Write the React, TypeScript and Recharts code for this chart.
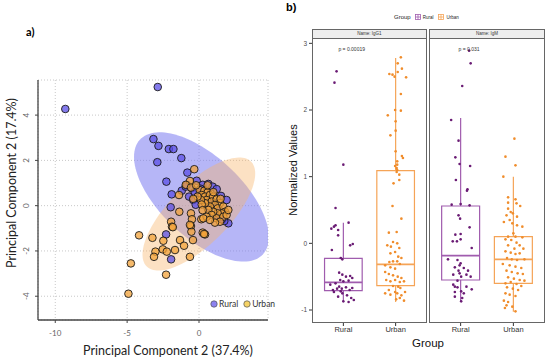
import React from "react";
import {
	ComposedChart,
	Scatter,
	Area,
	XAxis,
	YAxis,
	CartesianGrid,
	ReferenceArea,
	ReferenceLine,
	ReferenceDot,
} from "recharts";

// ---- panel a) PCA scores ----
const pcRural: [number, number][] = [
	[-9.3, 4.27], [-2.87, 5.24], [-3.17, 2.94], [-2.82, 2.64], [-2.1, 2.5], [-1.78, 2.5], [-1.23, 2.1],
	[-2.9, 1.92], [-0.81, 1.46], [-2.27, 1.06], [-1.9, 0.5], [-1.2, 0.66], [-0.93, 0.84], [-0.69, 0.4],
	[-1.97, -0.07], [-2.29, -1.27], [-1.94, -2.37], [2.04, -0.78], [1.76, -0.68], [1.58, -0.6],
	[-0.16, 1.1], [0.26, 0.92], [0.65, 0.96], [0.95, 0.84], [1.23, 0.73], [0.02, 0.55], [-0.4, 0.25],
	[-0.23, 0.04], [1.53, 0.43], [1.92, 0.25], [-0.51, 0.77], [-0.85, 0.92], [0.5, 0.6], [0.8, 0.3],
	[1.1, 0.1], [1.4, -0.2], [0.3, 0.2], [1.7, -0.3], [0.6, -0.1], [1.2, -0.45], [-0.3, 0.6], [0.1, 0.75],
];
const pcUrban: [number, number][] = [
	[-4.17, -1.31], [-3.24, -1.42], [-2.48, -1.55], [-1.32, -1.52], [-1.04, -1.77], [-0.42, -1.52],
	[-1.37, -0.27], [-1.94, -0.71], [-1.88, -0.93], [-1.82, -0.95], [-0.56, -0.34], [-0.49, -0.6],
	[-0.56, -0.9], [-0.53, -1.15], [0.16, -0.6], [0.26, -1.19], [0.42, -1.27], [0.35, -1.25],
	[-3.03, -2.03], [-3.13, -2.26], [-2.52, -1.93], [-2.24, -2.03], [-1.67, -1.96], [-0.63, -2.26],
	[-4.74, -2.55], [-2.29, -3.05], [-4.91, -3.89], [-0.33, 1.61], [-0.63, 1.09], [-1.39, 0.47],
	[-0.92, 0.92], [-0.56, 0.8], [0.05, 0.69], [0.37, 0.66], [0.6, 0.58], [0.19, 0.47], [0.42, 0.4],
	[0.76, 0.47], [0.99, 0.4], [0.53, 0.25], [0.88, 0.18], [1.23, 0.28], [1.46, 0.11], [1.11, 0.03],
	[0.76, -0.04], [0.42, 0.11], [0.14, 0.25], [1.3, -0.12], [1.69, -0.04], [1.81, -0.27], [1.58, -0.34],
	[1.3, -0.34], [0.99, -0.27], [0.65, -0.19], [0.88, -0.41], [1.23, -0.56], [1.69, -0.49], [1.92, -0.41],
	[2.04, -0.19], [0.53, -0.49], [0.3, -0.56], [1.46, -0.71], [1.11, -0.75], [0.76, -0.63], [0.19, 0.05],
	[1.0, 0.6], [1.5, 0.3], [0.25, -0.2], [-0.1, 0.4], [-0.4, 0.3], [-0.63, -0.85], [0.6, 0.9], [-0.2, 0.9],
];
// confidence ellipses: centre, x half-width, y shift per unit of x, y half-height at centre
const ruralEllipse = { cx: 0.17, cy: 0.385, a: 4.69, b: -1.77, c: 2.24 };
const urbanEllipse = { cx: -0.01, cy: -0.37, a: 3.92, b: 1.79, c: 1.74 };
const pcXTicks = [-10, -5, 0];
const pcYTicks = [-4, -2, 0, 2, 4];

// ---- panel b) boxplots ----
const groups = ["Rural", "Urban"];
const igg1Rural: [number, number][] = [
	[-0.13, 2.58], [-0.17, 2.41], [0.0, 1.18], [-0.15, 0.53], [0.1, 0.31], [-0.23, 0.22], [-0.18, 0.25],
	[-0.15, 0.27], [-0.1, 0.2], [-0.1, 0.12], [0.13, -0.03], [0.18, -0.01], [-0.22, -0.1], [-0.02, -0.24],
	[-0.05, -0.22], [-0.08, -0.44], [-0.02, -0.47], [0.05, -0.5], [0.13, -0.49], [0.17, -0.52], [-0.06, -0.55],
	[0.0, -0.57], [0.1, -0.56], [-0.15, -0.6], [-0.25, -0.62], [-0.12, -0.68], [-0.2, -0.7], [-0.03, -0.68],
	[0.05, -0.66], [0.12, -0.7], [0.17, -0.67], [-0.18, -0.73], [-0.02, -0.75], [0.07, -0.78], [-0.1, -0.8],
	[0.15, -0.82], [0.2, -0.85], [0.0, -0.87], [0.1, -0.88], [-0.05, -0.72], [-0.08, -0.65],
];
const igg1Urban: [number, number][] = [
	[0.1, 2.79], [0.04, 2.7], [-0.12, 2.54], [-0.06, 2.53], [0.04, 2.57], [0.12, 2.62], [0.2, 2.49],
	[-0.02, 2.5], [0.1, 2.24], [-0.01, 2.0], [0.1, 1.99], [-0.15, 1.92], [0.0, 1.83], [0.0, 1.69],
	[-0.1, 1.62], [0.0, 1.38], [0.12, 1.31], [0.14, 1.28], [0.03, 1.23], [0.03, 1.18], [0.02, 1.13],
	[-0.01, 1.16], [0.03, 1.1], [0.02, 1.07], [0.07, 1.03], [0.07, 0.95], [-0.04, 0.9], [-0.06, 0.56],
	[0.11, 0.37], [-0.13, 0.16], [0.02, 0.17], [-0.05, 0.02], [0.03, 0.0], [-0.09, -0.05], [-0.16, -0.03],
	[0.07, -0.07], [-0.01, -0.13], [0.05, -0.2], [0.11, -0.22], [-0.1, -0.15], [-0.12, -0.28], [-0.05, -0.27],
	[0.03, -0.27], [0.08, -0.31], [-0.2, -0.33], [-0.1, -0.36], [-0.01, -0.38], [-0.2, -0.43], [-0.13, -0.46],
	[-0.05, -0.48], [0.04, -0.5], [0.11, -0.52], [-0.18, -0.55], [-0.1, -0.57], [-0.01, -0.55], [0.08, -0.58],
	[0.16, -0.57], [-0.05, -0.64], [0.05, -0.65], [0.09, -0.67], [-0.13, -0.7], [-0.2, -0.75], [-0.1, -0.77],
	[-0.01, -0.73], [0.03, -0.75], [0.11, -0.78], [0.18, -0.73], [0.08, -0.82], [0.01, -0.84], [0.16, -0.86],
];
const igmRural: [number, number][] = [
	[0.16, 2.89], [0.19, 2.7], [0.03, 2.36], [-0.18, 1.85], [-0.04, 1.54], [-0.1, 1.29], [-0.02, 1.19],
	[0.18, 1.16], [-0.09, 0.95], [0.13, 0.81], [0.12, 0.79], [-0.17, 0.58], [0.0, 0.59], [0.17, 0.57],
	[-0.04, 0.42], [-0.01, 0.37], [0.17, 0.24], [-0.1, 0.13], [0.0, 0.14], [-0.15, 0.03], [-0.07, 0.03],
	[0.0, 0.06], [0.21, -0.07], [-0.24, -0.24], [-0.06, -0.25], [0.0, -0.3], [-0.02, -0.33], [-0.11, -0.36],
	[0.06, -0.37], [-0.04, -0.41], [0.14, -0.41], [-0.02, -0.45], [-0.14, -0.47], [0.19, -0.5], [0.11, -0.47],
	[-0.06, -0.56], [0.01, -0.5], [-0.14, -0.62], [-0.11, -0.65], [-0.06, -0.66], [0.11, -0.65], [0.21, -0.69],
	[-0.11, -0.73], [0.01, -0.72], [0.06, -0.75], [-0.11, -0.8], [0.03, -0.82], [0.01, -0.87],
];
const igmUrban: [number, number][] = [
	[0.02, 1.57], [-0.15, 1.3], [0.04, 1.17], [-0.19, 1.0], [-0.1, 0.69], [0.04, 0.66], [-0.1, 0.61],
	[0.06, 0.6], [0.13, 0.56], [-0.1, 0.52], [-0.05, 0.47], [-0.01, 0.45], [-0.13, 0.42], [0.07, 0.4],
	[-0.18, 0.32], [-0.07, 0.35], [-0.02, 0.3], [0.07, 0.27], [0.17, 0.25], [0.0, 0.15], [-0.1, 0.1],
	[0.04, 0.1], [0.17, 0.09], [-0.15, 0.06], [-0.04, 0.05], [0.06, 0.01], [0.12, -0.03], [-0.1, -0.03],
	[0.02, -0.08], [0.19, -0.08], [-0.15, -0.12], [-0.05, -0.14], [0.04, -0.16], [0.12, -0.15], [-0.12, -0.22],
	[-0.03, -0.24], [0.07, -0.25], [0.21, -0.24], [-0.2, -0.31], [-0.07, -0.33], [0.04, -0.35], [0.15, -0.37],
	[-0.13, -0.41], [-0.03, -0.43], [0.08, -0.45], [0.18, -0.46], [-0.1, -0.51], [0.01, -0.53], [0.12, -0.55],
	[0.21, -0.56], [-0.15, -0.6], [-0.05, -0.58], [0.06, -0.61], [0.15, -0.64], [-0.12, -0.66], [-0.01, -0.68],
	[0.09, -0.7], [-0.15, -0.75], [-0.07, -0.77], [0.04, -0.79], [-0.18, -0.86], [-0.1, -0.88], [-0.13, -0.93],
	[-0.02, -0.95], [-0.16, -0.97], [0.04, -1.02],
];
// lower whisker, q1, median, q3, upper whisker
const igg1Stats = [
	{ lo: -0.875, q1: -0.71, med: -0.585, q3: -0.225, hi: 0.31 },
	{ lo: -0.88, q1: -0.635, med: -0.315, q3: 1.09, hi: 2.78 },
];
const igmStats = [
	{ lo: -0.875, q1: -0.55, med: -0.185, q3: 0.56, hi: 1.88 },
	{ lo: -1.025, q1: -0.6, med: -0.24, q3: 0.1, hi: 1.0 },
];
const boxYTicks = [-1, 0, 1, 2, 3];

const LATO = "Lato, sans-serif";
const ARIAL = "'Liberation Sans', Arial, sans-serif";
const boxColors = ["#a05cae", "#f5a457"];
const dotColors = ["#6a1b74", "#f08d2c"];

function ellipseRows(e: typeof ruralEllipse) {
	const rows = [];
	for (let i = 0; i <= 60; i++) {
		const u = -Math.cos((Math.PI * i) / 60);
		const s = Math.sqrt(Math.max(0, 1 - u * u));
		rows.push({ x: e.cx + e.a * u, range: [e.cy + e.b * u - e.c * s, e.cy + e.b * u + e.c * s] });
	}
	return rows;
}

const toXY = (pts: [number, number][]) => pts.map(([x, y]) => ({ x, y }));

const pcDot = (fill: string) => (p: any) =>
	<circle cx={p.cx} cy={p.cy} r={3.8} fill={fill} fillOpacity={0.75} stroke="#1a1a1a" strokeWidth={0.9} />;

const RotatedTick = ({ x, y, payload }: any) => (
	<text x={x - 4} y={y} transform={`rotate(-90 ${x - 4} ${y})`} textAnchor="middle" fontSize={8} fill="#666" fontFamily={LATO}>
		{payload.value}
	</text>
);

function PcaPanel() {
	return (
		<div style={{ position: "absolute", left: 0, top: 0 }}>
			<ComposedChart width={280} height={363} margin={{ top: 80, right: 12, bottom: 23, left: 18 }}>
				<CartesianGrid stroke="#c8c8c8" strokeDasharray="1 2" />
				<XAxis
					type="number"
					dataKey="x"
					domain={[-11.2, 4.8]}
					ticks={pcXTicks}
					allowDataOverflow
					height={20}
					tickSize={3}
					tickMargin={7}
					axisLine={{ stroke: "#444", strokeWidth: 1.3 }}
					tickLine={{ stroke: "#444" }}
					tick={{ fontSize: 8, fill: "#666", fontFamily: LATO }}
				/>
				<YAxis
					type="number"
					domain={[-5.05, 5.55]}
					ticks={pcYTicks}
					allowDataOverflow
					width={20}
					tickSize={3}
					axisLine={{ stroke: "#444", strokeWidth: 1.3 }}
					tickLine={{ stroke: "#444" }}
					tick={<RotatedTick />}
				/>
				<Area data={ellipseRows(ruralEllipse)} dataKey="range" type="linear" stroke="none" fill="#7a7af0" fillOpacity={0.55} isAnimationActive={false} />
				<Area data={ellipseRows(urbanEllipse)} dataKey="range" type="linear" stroke="none" fill="#f7b56a" fillOpacity={0.4} isAnimationActive={false} />
				<Scatter data={toXY(pcRural)} dataKey="y" shape={pcDot("#5b4fe6")} isAnimationActive={false} />
				<Scatter data={toXY(pcUrban)} dataKey="y" shape={pcDot("#f3a33a")} isAnimationActive={false} />
			</ComposedChart>
		</div>
	);
}

interface FacetProps {
	name: string;
	pText: string;
	rural: [number, number][];
	urban: [number, number][];
	stats: typeof igg1Stats;
	showY: boolean;
	left: number;
	width: number;
}

function Facet({ name, pText, rural, urban, stats, showY, left, width }: FacetProps) {
	const marginLeft = showY ? 7 : 0;
	const plotLeft = left + marginLeft + (showY ? 25 : 0);
	const plotWidth = left + width - plotLeft;
	const jitter = (pts: [number, number][], g: number) => pts.map(([dx, v]) => ({ x: g + 1 + dx, y: v }));
	const dot = (fill: string) => (p: any) => <circle cx={p.cx} cy={p.cy} r={1.3} fill={fill} />;
	return (
		<>
			<div style={{ position: "absolute", left: plotLeft, top: 29, width: plotWidth, height: 10, boxSizing: "border-box", border: "1px solid #666", background: "#eeeeee", fontFamily: ARIAL, fontSize: 4.5, lineHeight: "8px", textAlign: "center", color: "#333" }}>
				{name}
			</div>
			<div style={{ position: "absolute", left: plotLeft, top: 38, width: plotWidth, height: 285, boxSizing: "border-box", border: "1px solid #666" }} />
			<div style={{ position: "absolute", left, top: 0 }}>
				<ComposedChart width={width} height={363} margin={{ top: 38, right: 0, bottom: 20, left: marginLeft }}>
					<XAxis
						type="number"
						dataKey="x"
						domain={[0.4, 2.6]}
						ticks={[1, 2]}
						tickFormatter={(v) => groups[v - 1]}
						allowDataOverflow
						height={20}
						axisLine={false}
						tickSize={3}
						tickMargin={1}
						tickLine={{ stroke: "#333" }}
						tick={{ fontSize: 7.5, fill: "#333", fontFamily: ARIAL }}
					/>
					<YAxis
						type="number"
						domain={[-1.195, 3.08]}
						ticks={boxYTicks}
						allowDataOverflow
						hide={!showY}
						width={25}
						axisLine={false}
						tickSize={3}
						tickMargin={2}
						tickLine={{ stroke: "#333" }}
						tick={{ fontSize: 6.5, fill: "#4d4d4d", fontFamily: ARIAL }}
					/>
					{stats.map((s, i) => (
						<React.Fragment key={i}>
							<ReferenceLine segment={[{ x: i + 1, y: s.q3 }, { x: i + 1, y: s.hi }]} stroke={boxColors[i]} strokeWidth={1.2} />
							<ReferenceLine segment={[{ x: i + 1, y: s.lo }, { x: i + 1, y: s.q1 }]} stroke={boxColors[i]} strokeWidth={1.2} />
							<ReferenceArea x1={i + 0.64} x2={i + 1.36} y1={s.q1} y2={s.q3} fill="none" stroke={boxColors[i]} strokeWidth={1.2} />
							<ReferenceLine segment={[{ x: i + 0.64, y: s.med }, { x: i + 1.36, y: s.med }]} stroke={boxColors[i]} strokeWidth={1.8} />
						</React.Fragment>
					))}
					<Scatter data={jitter(rural, 0)} dataKey="y" shape={dot(dotColors[0])} isAnimationActive={false} />
					<Scatter data={jitter(urban, 1)} dataKey="y" shape={dot(dotColors[1])} isAnimationActive={false} />
					<ReferenceDot
						x={1.16}
						y={2.91}
						r={0}
						fill="none"
						stroke="none"
						label={{ value: pText, position: "center", fontSize: 5, fill: "#333", fontFamily: ARIAL }}
					/>
				</ComposedChart>
			</div>
		</>
	);
}

const BoxKey = ({ color }: { color: string }) => (
	<svg width={6} height={6} style={{ verticalAlign: "middle" }}>
		<rect x={0.5} y={0.5} width={5} height={5} fill="white" stroke={color} strokeWidth={0.8} />
		<line x1={0.5} x2={5.5} y1={3} y2={3} stroke={color} strokeWidth={0.8} />
		<line x1={3} x2={3} y1={0.5} y2={5.5} stroke={color} strokeWidth={0.8} />
	</svg>
);

export default function App() {
	return (
		<div style={{ position: "relative", width: 550, height: 363, background: "white", overflow: "hidden" }}>
			<style>{"body{margin:0}"}</style>
			<PcaPanel />
			<div style={{ position: "absolute", left: 26, top: 25, fontFamily: LATO, fontWeight: 700, fontSize: 11 }}>a)</div>
			<div style={{ position: "absolute", left: 60, top: 343, width: 216, textAlign: "center", fontFamily: LATO, fontSize: 12.5, color: "#222" }}>
				Principal Component 2 (37.4%)
			</div>
			<div style={{ position: "absolute", left: 12 - 100, top: 183 - 9, width: 200, textAlign: "center", transform: "rotate(-90deg)", fontFamily: LATO, fontSize: 12.5, lineHeight: "18px", color: "#222" }}>
				Principal Component 2 (17.4%)
			</div>
			<div style={{ position: "absolute", left: 210, top: 299, fontFamily: LATO, fontSize: 8.5, color: "#333", display: "flex", alignItems: "center", gap: 1 }}>
				<svg width={8} height={8}><circle cx={4} cy={4} r={3.2} fill="#8d82f0" stroke="#555" strokeWidth={0.7} /></svg>
				<span style={{ marginRight: 4 }}>Rural</span>
				<svg width={8} height={8}><circle cx={4} cy={4} r={3.2} fill="#f6d365" stroke="#555" strokeWidth={0.7} /></svg>
				<span>Urban</span>
			</div>

			<div style={{ position: "absolute", left: 286, top: 1, fontFamily: ARIAL, fontWeight: 700, fontSize: 11 }}>b)</div>
			<div style={{ position: "absolute", left: 394, top: 14, fontFamily: ARIAL, fontSize: 6, color: "#222", display: "flex", alignItems: "center", gap: 2 }}>
				<span style={{ marginRight: 2 }}>Group</span>
				<BoxKey color={boxColors[0]} />
				<span style={{ fontSize: 4.5, marginRight: 3 }}>Rural</span>
				<BoxKey color={boxColors[1]} />
				<span style={{ fontSize: 4.5 }}>Urban</span>
			</div>
			<Facet name="Name: IgG1" pText="p = 0.00019" rural={igg1Rural} urban={igg1Urban} stats={igg1Stats} showY left={280} width={147} />
			<Facet name="Name: IgM" pText="p = 0.031" rural={igmRural} urban={igmUrban} stats={igmStats} showY={false} left={429} width={116} />
			<div style={{ position: "absolute", left: 293 - 100, top: 170 - 8, width: 200, textAlign: "center", transform: "rotate(-90deg)", fontFamily: ARIAL, fontSize: 11, lineHeight: "16px", color: "#111" }}>
				Normalized Values
			</div>
			<div style={{ position: "absolute", left: 378, top: 337, width: 100, textAlign: "center", fontFamily: ARIAL, fontSize: 11.5, color: "#111" }}>
				Group
			</div>
		</div>
	);
}
